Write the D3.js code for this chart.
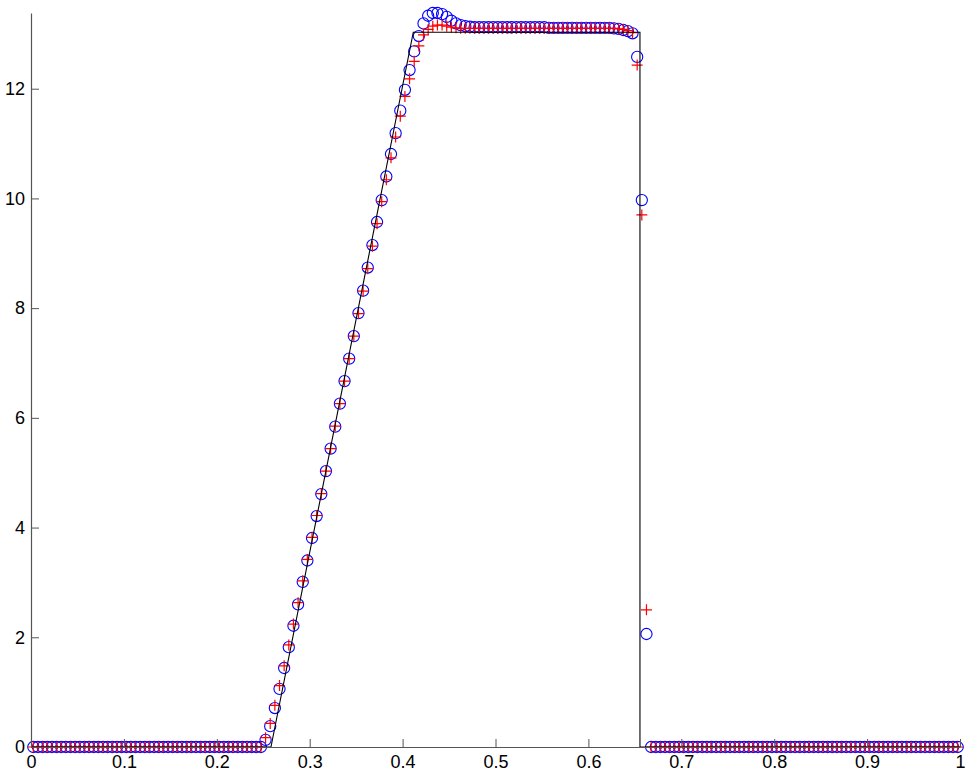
<!DOCTYPE html>
<html>
<head>
<meta charset="utf-8">
<script src="https://cdn.jsdelivr.net/npm/d3@7"></script>
<style>
  body { margin: 0; background: #fff; }
  text { font-family: "Liberation Sans", Arial, sans-serif; }
</style>
</head>
<body>
<script>
// grid: cell centres of 200 cells on [0, 1]
const nCells = 200

// blue circles
const circleVals = [
  0,0,0,0,0,0,0,0,0,0, 0,0,0,0,0,0,0,0,0,0,
  0,0,0,0,0,0,0,0,0,0, 0,0,0,0,0,0,0,0,0,0,
  0,0,0,0,0,0,0,0,0,0,
  0.13,0.38,0.71,1.06,1.44,1.82,2.21,2.60,3.01,3.40,
  3.81,4.21,4.61,5.03,5.44,5.84,6.26,6.67,7.08,7.49,
  7.91,8.32,8.74,9.15,9.57,9.97,10.40,10.81,11.19,11.60,
  11.98,12.34,12.68,12.96,13.19,13.33,13.38,13.38,13.36,13.31,
  13.24,13.19,13.16,13.14,13.13,13.12,13.12,13.12,13.12,13.12,
  13.12,13.12,13.12,13.12,13.12,13.12,13.12,13.12,13.12,13.12,
  13.12,13.11,13.11,13.11,13.11,13.11,13.11,13.11,13.11,13.11,
  13.11,13.11,13.11,13.11,13.11,13.10,13.09,13.07,13.05,13.01,
  12.58,9.97,2.06,0,0,0,0,0,0,0,
  0,0,0,0,0,0,0,0,0,0, 0,0,0,0,0,0,0,0,0,0,
  0,0,0,0,0,0,0,0,0,0, 0,0,0,0,0,0,0,0,0,0,
  0,0,0,0,0,0,0,0,0,0, 0,0,0,0,0,0,0,0,0,0
]

// red pluses
const plusVals = [
  0,0,0,0,0,0,0,0,0,0, 0,0,0,0,0,0,0,0,0,0,
  0,0,0,0,0,0,0,0,0,0, 0,0,0,0,0,0,0,0,0,0,
  0,0,0,0,0,0,0,0,0,0,
  0.17,0.43,0.76,1.12,1.48,1.86,2.24,2.63,3.03,3.42,
  3.82,4.22,4.62,5.03,5.44,5.85,6.26,6.67,7.08,7.49,
  7.90,8.31,8.72,9.13,9.54,9.94,10.34,10.74,11.12,11.50,
  11.86,12.18,12.50,12.78,12.98,13.08,13.14,13.16,13.16,13.14,
  13.12,13.11,13.10,13.10,13.10,13.10,13.10,13.10,13.10,13.10,
  13.10,13.10,13.10,13.10,13.10,13.10,13.10,13.10,13.10,13.10,
  13.10,13.10,13.10,13.10,13.10,13.10,13.10,13.10,13.10,13.10,
  13.10,13.10,13.10,13.10,13.10,13.10,13.09,13.08,13.06,13.02,
  12.43,9.70,2.50,0,0,0,0,0,0,0,
  0,0,0,0,0,0,0,0,0,0, 0,0,0,0,0,0,0,0,0,0,
  0,0,0,0,0,0,0,0,0,0, 0,0,0,0,0,0,0,0,0,0,
  0,0,0,0,0,0,0,0,0,0, 0,0,0,0,0,0,0,0,0,0
]

// exact solution (black line)
const exactX = [0, 0.2583, 0.4115, 0.6555, 0.6555, 1]
const exactY = [0, 0, 13.03, 13.03, 0, 0]

const xTicks = [0, 0.1, 0.2, 0.3, 0.4, 0.5, 0.6, 0.7, 0.8, 0.9, 1]
const xTickLabels = ['0', '0.1', '0.2', '0.3', '0.4', '0.5', '0.6', '0.7', '0.8', '0.9', '1']
const yTicks = [0, 2, 4, 6, 8, 10, 12]

const width = 980, height = 773
const plotLeft = 31, plotRight = 960, plotTop = 13, plotBottom = 747

const x = d3.scaleLinear().domain([0, 1]).range([plotLeft, plotRight])
const y = d3.scaleLinear().domain([0, 13.38]).range([plotBottom, plotTop])

const svg = d3.select('body').append('svg')
  .attr('width', width)
  .attr('height', height)

const cellX = d3.range(nCells).map(i => (i + 0.5) / nCells)

// circles
svg.append('g')
  .selectAll('circle')
  .data(circleVals)
  .join('circle')
  .attr('cx', (d, i) => x(cellX[i]))
  .attr('cy', d => y(d))
  .attr('r', 5.6)
  .attr('fill', 'none')
  .attr('stroke', '#0000ff')
  .attr('stroke-width', 1.1)

// pluses
let s = 5.5
svg.append('g')
  .selectAll('path')
  .data(plusVals)
  .join('path')
  .attr('d', (d, i) => {
    let px = x(cellX[i]), py = y(d)
    return `M${px - s},${py}H${px + s}M${px},${py - s}V${py + s}`
  })
  .attr('fill', 'none')
  .attr('stroke', '#ff0000')
  .attr('stroke-width', 1.2)

// exact line
let line = d3.line().x(d => x(d[0])).y(d => y(d[1]))
svg.append('path')
  .attr('d', line(exactX.map((v, i) => [v, exactY[i]])))
  .attr('fill', 'none')
  .attr('stroke', '#000')
  .attr('stroke-width', 1.1)

// axes
let xAxis = svg.append('g')
  .attr('transform', `translate(0,${plotBottom})`)
  .call(d3.axisBottom(x)
    .tickValues(xTicks)
    .tickFormat((d, i) => xTickLabels[i])
    .tickSizeInner(-8)
    .tickSizeOuter(0)
    .tickPadding(8))

let yAxis = svg.append('g')
  .attr('transform', `translate(${plotLeft},0)`)
  .call(d3.axisLeft(y)
    .tickValues(yTicks)
    .tickSizeInner(-8)
    .tickSizeOuter(0)
    .tickPadding(6))

for (let ax of [xAxis, yAxis]) {
  ax.select('.domain').attr('stroke', '#555').attr('stroke-width', 1.2)
  ax.selectAll('.tick line').attr('stroke', '#555')
  ax.selectAll('.tick text')
    .attr('fill', '#000')
    .style('font-size', '18px')
    .style('font-family', '"Liberation Sans", Arial, sans-serif')
}
</script>
</body>
</html>
